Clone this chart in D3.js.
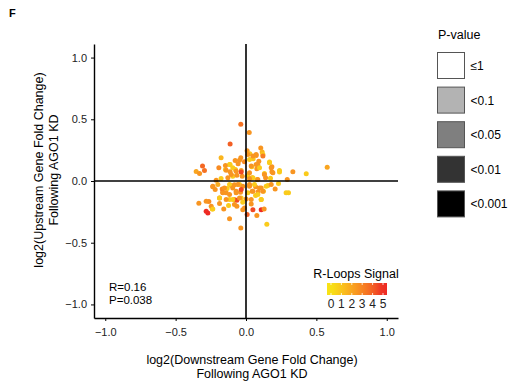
<!DOCTYPE html>
<html><head><meta charset="utf-8">
<script src="https://cdn.jsdelivr.net/npm/d3@7"></script>
<style>body{margin:0;background:#fff;} text{font-family:"Liberation Sans",Arial,sans-serif;}</style>
</head><body>
<svg id="c" width="508" height="383"></svg>
<script>
// Data: log2 fold change downstream (x), upstream (y), R-loops signal (s)
const xVals = [-0.037,0.023,-0.113,0.105,0.115,0.120,0.008,0.027,0.072,-0.037,-0.177,0.167,0.091,0.051,-0.077,-0.046,-0.011,-0.117,-0.056,-0.309,
  -0.354,-0.330,-0.295,-0.193,-0.146,-0.113,-0.075,-0.034,0.041,0.077,0.084,0.184,0.184,0.238,0.333,0.428,0.577,0.131,0.139,0.174,
  0.293,-0.212,-0.177,-0.129,-0.094,-0.065,-0.027,0.013,0.044,0.079,-0.236,-0.219,-0.169,-0.134,-0.105,-0.082,-0.046,-0.023,0.025,0.068,
  0.108,0.155,0.207,0.231,0.302,-0.165,-0.141,-0.070,-0.039,0.013,0.044,0.086,0.124,-0.188,-0.117,-0.082,-0.065,-0.034,0.001,0.068,
  0.108,-0.264,-0.335,-0.188,-0.124,-0.065,-0.023,0.037,-0.240,-0.271,-0.158,-0.023,0.108,0.129,0.008,0.077,-0.117,0.148,-0.037,
  -0.146,-0.141,-0.113,-0.094,-0.105,-0.070,-0.034,0.013,0.025,0.049,0.072,0.120,0.037,0.072,0.096,0.167,0.179,0.238,0.191,0.131,
  0.025,0.049,0.084,0.025,-0.236,-0.200,-0.153,-0.117,-0.094,-0.058,-0.034,-0.070,-0.117,-0.165,-0.188,-0.141,-0.094,-0.046,0.025,0.060,
  0.096,0.143,0.179,0.049,0.084,0.120,0.037,0.108,0.285,-0.283,-0.247,-0.283,-0.236,-0.082,-0.011,0.049];
const yVals = [0.459,0.392,0.299,0.267,0.234,0.215,0.245,0.221,0.207,0.188,0.188,0.153,0.161,0.180,0.167,0.169,0.156,0.134,0.140,0.121,
  0.077,0.061,0.085,0.107,0.093,0.075,0.093,0.085,0.115,0.099,0.131,0.115,0.075,0.085,0.075,0.058,0.112,0.061,0.026,0.023,
  0.012,0.007,0.020,0.026,0.039,0.047,0.039,0.045,0.026,0.012,-0.047,-0.069,-0.064,-0.061,-0.037,-0.031,-0.028,-0.042,-0.028,-0.047,
  -0.056,-0.037,-0.064,-0.020,-0.096,-0.091,-0.096,-0.083,-0.091,-0.096,-0.083,-0.088,-0.083,-0.137,-0.150,-0.150,-0.156,-0.137,-0.145,-0.118,
  -0.150,-0.167,-0.180,-0.183,-0.199,-0.205,-0.172,-0.186,-0.226,-0.259,-0.226,-0.232,-0.232,-0.226,-0.272,-0.280,-0.305,-0.351,-0.381,
  0.126,0.088,0.134,0.107,0.053,0.080,0.072,0.215,0.175,0.202,0.215,0.202,0.121,0.134,0.107,0.148,0.107,0.072,0.066,0.053,
  0.066,0.026,0.012,0.018,-0.042,-0.028,-0.056,-0.028,-0.056,-0.028,-0.069,-0.096,-0.110,-0.096,-0.137,-0.150,-0.150,-0.137,-0.042,-0.028,
  -0.056,-0.042,-0.028,-0.083,-0.110,-0.083,-0.150,-0.150,-0.096,-0.164,-0.205,-0.245,-0.226,-0.191,-0.218,-0.232];
const signal = [3.5,2.5,4,2.5,1.5,0.8,2.5,1,2.5,2.5,1.5,0.8,2.5,1,2.5,2.5,2.8,0.8,2.5,3.8,
  2,2.5,3.5,2.8,0.8,2.5,1,2,0.8,2.5,2.5,2.5,2.5,0.8,2.5,0.8,2,0.8,2.5,0.8,
  2.5,2.5,0.8,2.5,0.8,2.5,2.5,0.8,2.5,0.8,2.5,2.5,2.8,0.8,2.5,2.5,0.8,2.5,2.5,2.5,
  2.5,0.8,2.5,0.8,0.8,3.5,2.5,2.5,2.5,0.8,2.5,2.5,0.8,2.5,0.8,2.5,4.5,0.8,2.5,0.8,
  0.8,2.8,2.5,2.5,0.8,2.5,0.8,2.5,0.8,5,2.5,2.5,5,2.5,4,2.5,2.5,0.8,2.5,
  2.5,2.5,0.8,0.8,2.5,2.5,4.5,2.5,0.8,2.5,2.5,3.2,2.5,2.5,0.8,0.8,2.5,0.8,2.5,2.5,
  2.5,0.8,2.5,2.5,2.5,1.8,2.5,0.8,2.5,2.5,4.5,2.5,2.5,2.5,0.8,2.5,0.8,2.5,2.5,0.8,
  2.5,0.8,2.5,2.5,0.8,2.5,2.5,0.8,0.8,2.5,2.5,5,0.8,2.5,2.5,4.5];
const xTicks = [-1, -0.5, 0, 0.5, 1];
const yTicks = [-1, -0.5, 0, 0.5, 1];
const signalTicks = [0, 1, 2, 3, 4, 5];
const pLabels = ["\u22641", "<0.1", "<0.05", "<0.01", "<0.001"];
const pFills = ["#ffffff", "#b3b3b3", "#7f7f7f", "#333333", "#000000"];
const statLines = ["R=0.16", "P=0.038"];

const svg = d3.select("#c");
svg.append("rect").attr("width",508).attr("height",383).attr("fill","#fff");

const x = d3.scaleLinear().domain([-1.08, 1.08]).range([94, 398]);
const y = d3.scaleLinear().domain([-1.11, 1.11]).range([318, 44]);
const col = d3.scaleLinear().domain([0, 5]).range(["#f8e316", "#ee2a24"]).interpolate(d3.interpolateLab).clamp(true);
const fmt = d => d3.format(".1f")(d).replace("-", "\u2212");

svg.append("text").attr("x",9).attr("y",17).attr("font-size",11).attr("font-weight","bold").text("F");

// points
const pts = xVals.map((v,i) => ({x:v, y:yVals[i], s:signal[i]}));
svg.append("g").selectAll("circle").data(pts).join("circle")
  .attr("cx", d => x(d.x)).attr("cy", d => y(d.y)).attr("r", 2.5)
  .attr("fill", d => col(d.s));

// zero lines
svg.append("line").attr("x1", x(0)).attr("x2", x(0)).attr("y1", y.range()[1]).attr("y2", y.range()[0])
  .attr("stroke","#000").attr("stroke-width",1.6);
svg.append("line").attr("x1", x.range()[0]).attr("x2", x.range()[1]).attr("y1", y(0)).attr("y2", y(0))
  .attr("stroke","#000").attr("stroke-width",1.6);

// axes
const gx = svg.append("g").attr("transform","translate(0,318)")
  .call(d3.axisBottom(x).tickValues(xTicks).tickFormat(fmt).tickSize(3).tickSizeOuter(0).tickPadding(7));
const gy = svg.append("g").attr("transform","translate(94,0)")
  .call(d3.axisLeft(y).tickValues(yTicks).tickFormat(fmt).tickSize(3).tickSizeOuter(0).tickPadding(4));
[gx, gy].forEach(g => {
  g.select(".domain").attr("stroke","#000").attr("stroke-width",1.4);
  g.selectAll(".tick line").attr("stroke","#000");
  g.selectAll(".tick text").attr("font-size",11).attr("fill","#222").attr("font-family","Liberation Sans, Arial, sans-serif");
});

// axis titles
const xt = svg.append("text").attr("text-anchor","middle").attr("font-size",12.5).attr("fill","#000");
xt.append("tspan").attr("x",252).attr("y",363.5).text("log2(Downstream Gene Fold Change)");
xt.append("tspan").attr("x",252).attr("y",378).text("Following AGO1 KD");
const yt = svg.append("text").attr("text-anchor","middle").attr("font-size",12.5).attr("fill","#000")
  .attr("transform","translate(0,170) rotate(-90)");
yt.append("tspan").attr("x",0).attr("y",43).text("log2(Upstream Gene Fold Change)");
yt.append("tspan").attr("x",0).attr("y",58).text("Following AGO1 KD");

// R / P annotation (single text block)
const st = svg.append("text").attr("font-size",11.5);
st.selectAll("tspan").data(statLines).join("tspan")
  .attr("x",109).attr("y",(d,i) => 291 + i*12.5).text(d => d);

// colour bar legend
const cb = d3.scaleLinear().domain([0,5]).range([331, 383]);
svg.append("text").attr("x",356).attr("y",278).attr("text-anchor","middle").attr("font-size",12.5).text("R-Loops Signal");
const defs = svg.append("defs");
const grad = defs.append("linearGradient").attr("id","cg");
const lo = cb.invert(327), hi = cb.invert(387);
d3.range(0, 1.0001, 0.1).forEach(t => {
  grad.append("stop").attr("offset", t).attr("stop-color", col(lo + t*(hi-lo)));
});
svg.append("rect").attr("x",327).attr("y",283).attr("width",60).attr("height",12).attr("fill","url(#cg)");
signalTicks.forEach(v => {
  svg.append("line").attr("x1",cb(v)).attr("x2",cb(v)).attr("y1",283).attr("y2",285).attr("stroke","#fff").attr("stroke-width",0.8);
  svg.append("line").attr("x1",cb(v)).attr("x2",cb(v)).attr("y1",293).attr("y2",295).attr("stroke","#fff").attr("stroke-width",0.8);
  svg.append("text").attr("x",cb(v)).attr("y",308).attr("text-anchor","middle").attr("font-size",12).attr("fill","#222").text(v);
});

// P-value legend
svg.append("text").attr("x",438).attr("y",39).attr("font-size",12.5).text("P-value");
const pl = svg.append("g").selectAll("g").data(pLabels).join("g")
  .attr("transform",(d,i) => `translate(437.5,${52.5 + i*34.6})`);
pl.append("rect").attr("width",27).attr("height",26).attr("fill",(d,i)=>pFills[i]).attr("stroke","#555").attr("stroke-width",1);
pl.append("text").attr("x",33).attr("y",17.5).attr("font-size",12).text(d=>d);
</script>
</body></html>
